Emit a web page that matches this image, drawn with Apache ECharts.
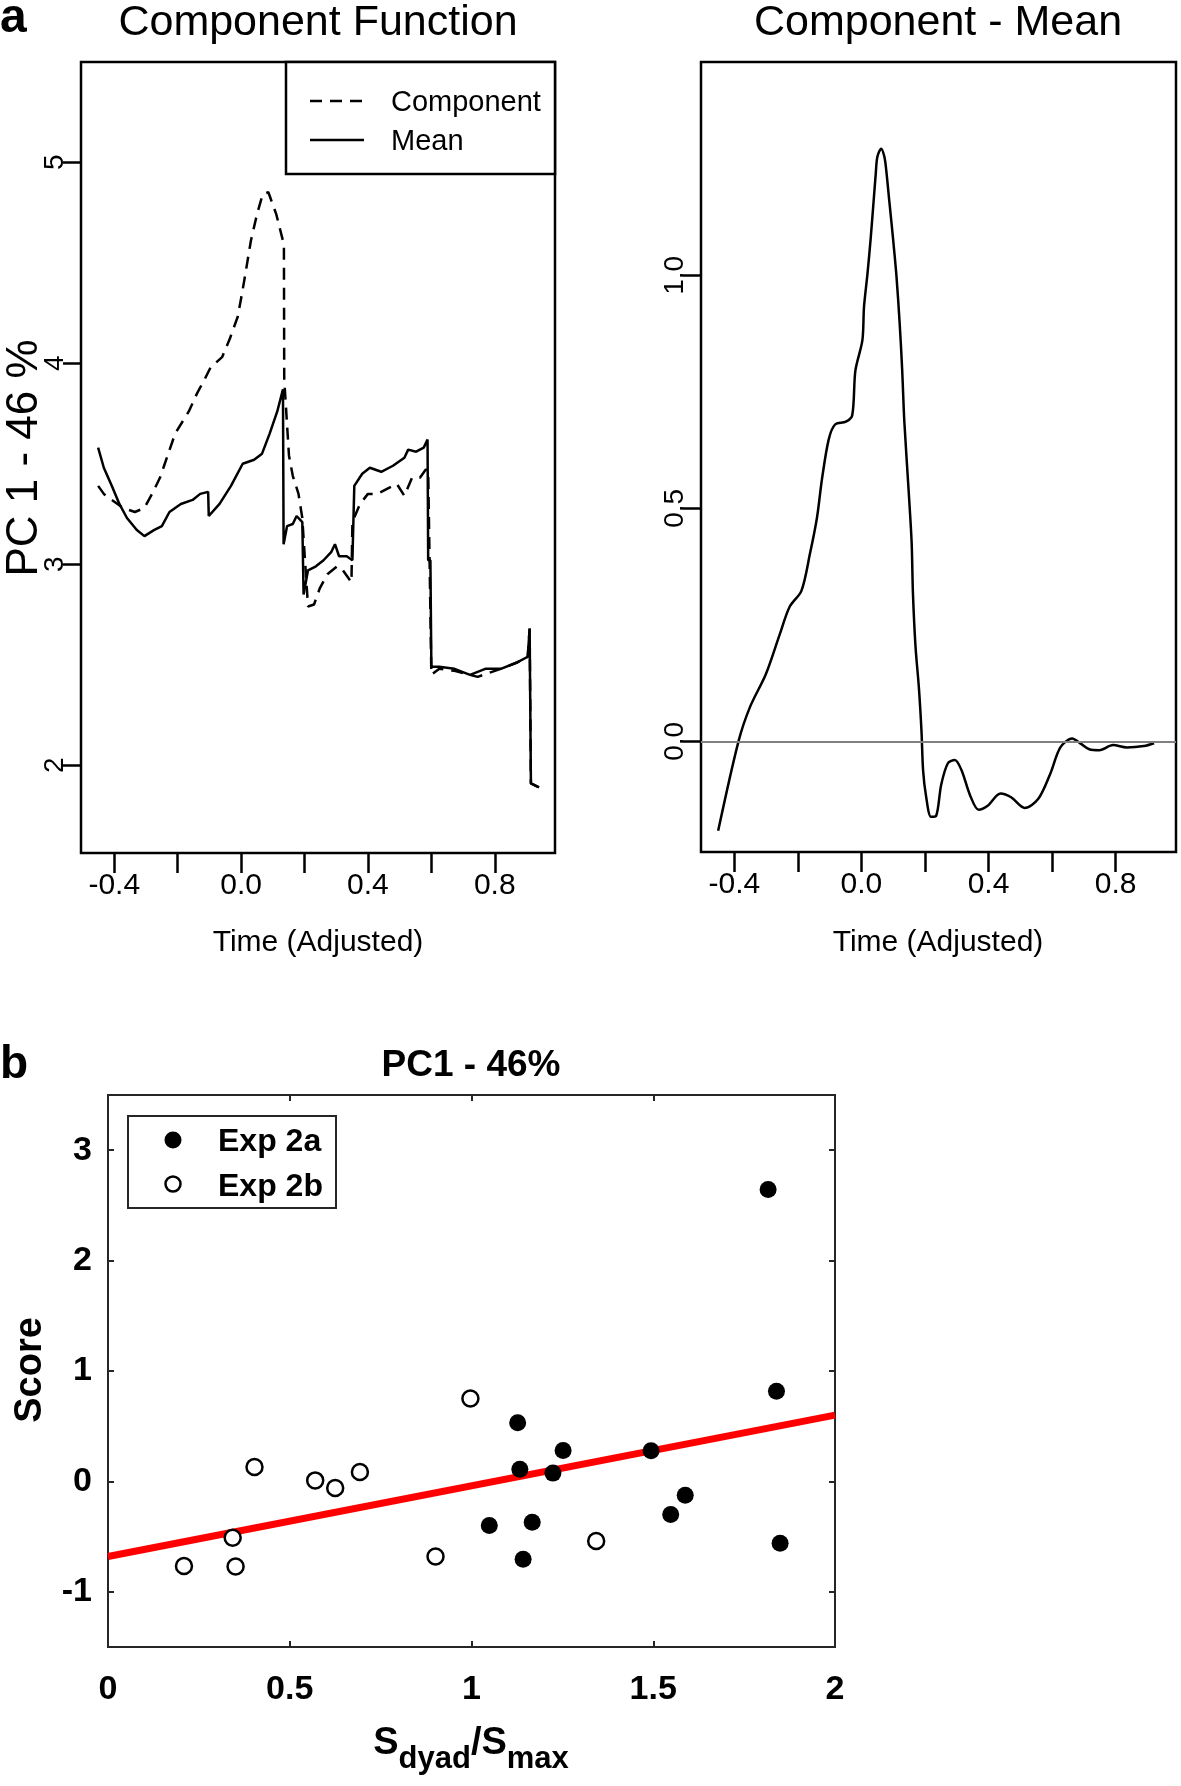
<!DOCTYPE html>
<html>
<head>
<meta charset="utf-8">
<script src="https://cdn.jsdelivr.net/npm/echarts@6/dist/echarts.min.js"></script>
<style>
html,body{margin:0;padding:0;background:#fff;}
#chart{width:1181px;height:1786px;}
</style>
</head>
<body>
<div id="chart"></div>
<script>
// ---------- Panel a (left): Component Function ----------
const compTime = [-0.451,-0.433,-0.408,-0.372,-0.335,-0.305,-0.281,-0.256,-0.232,-0.208,-0.165,-0.139,-0.115,-0.096,-0.060,-0.036,-0.011,0.001,0.013,0.031,0.050,0.068,0.086,0.111,0.135,0.136,0.151,0.163,0.181,0.193,0.199,0.211,0.230,0.248,0.272,0.303,0.321,0.348,0.351,0.375,0.400,0.430,0.454,0.491,0.515,0.539,0.564,0.582,0.590,0.600,0.625,0.673,0.746,0.819,0.868,0.904,0.910,0.914,0.940];
const compVals = [3.39,3.35,3.32,3.28,3.26,3.28,3.35,3.43,3.54,3.65,3.76,3.85,3.92,3.98,4.03,4.12,4.23,4.33,4.44,4.61,4.74,4.84,4.85,4.74,4.59,3.92,3.54,3.44,3.35,3.23,3.08,2.79,2.80,2.88,2.95,2.99,2.97,2.91,3.21,3.30,3.35,3.35,3.37,3.40,3.34,3.43,3.43,3.47,3.47,2.45,2.48,2.47,2.44,2.48,2.51,2.54,2.68,1.91,1.89];
const meanTime = [-0.451,-0.433,-0.408,-0.384,-0.360,-0.329,-0.305,-0.275,-0.250,-0.226,-0.190,-0.153,-0.129,-0.104,-0.102,-0.068,-0.032,0.005,0.041,0.066,0.090,0.114,0.132,0.134,0.145,0.163,0.175,0.193,0.197,0.211,0.236,0.260,0.284,0.296,0.309,0.333,0.351,0.357,0.382,0.406,0.442,0.479,0.515,0.527,0.552,0.576,0.588,0.590,0.597,0.600,0.625,0.673,0.722,0.770,0.819,0.868,0.904,0.910,0.914,0.940];
const meanVals = [3.58,3.48,3.39,3.30,3.23,3.17,3.14,3.17,3.19,3.26,3.30,3.32,3.35,3.36,3.24,3.30,3.39,3.50,3.52,3.55,3.65,3.76,3.87,3.10,3.19,3.20,3.24,3.21,2.85,2.97,2.99,3.02,3.06,3.10,3.04,3.04,3.02,3.39,3.45,3.48,3.46,3.49,3.53,3.57,3.56,3.58,3.62,3.02,3.02,2.49,2.49,2.48,2.45,2.48,2.48,2.51,2.54,2.68,1.91,1.89];
const leftYTicks = [2,3,4,5];
const timeTicks = [-0.4,-0.2,0,0.2,0.4,0.6,0.8];
const timeLabels = [-0.4,0,0.4,0.8];

// ---------- Panel a (right): Component - Mean ----------
const diffTime = [-0.451,-0.387,-0.350,-0.301,-0.258,-0.226,-0.189,-0.162,-0.140,-0.124,-0.103,-0.083,-0.049,-0.029,-0.019,0.003,0.008,0.019,0.029,0.038,0.045,0.050,0.062,0.072,0.078,0.088,0.099,0.110,0.120,0.128,0.135,0.149,0.158,0.162,0.170,0.181,0.189,0.194,0.203,0.219,0.235,0.251,0.272,0.294,0.315,0.342,0.369,0.396,0.438,0.471,0.514,0.556,0.594,0.626,0.663,0.690,0.717,0.749,0.792,0.835,0.889,0.921];
const diffVals = [-0.192,0.000,0.075,0.144,0.228,0.289,0.323,0.403,0.480,0.564,0.648,0.680,0.686,0.700,0.796,0.861,0.932,1.004,1.079,1.157,1.218,1.254,1.272,1.255,1.226,1.157,1.082,1.000,0.900,0.800,0.686,0.533,0.426,0.319,0.205,0.113,0.021,-0.062,-0.116,-0.162,-0.160,-0.093,-0.047,-0.040,-0.062,-0.116,-0.147,-0.139,-0.112,-0.120,-0.143,-0.124,-0.070,-0.013,0.006,-0.005,-0.017,-0.019,-0.008,-0.013,-0.010,-0.004];
const rightYTicks = [0,0.5,1.0];

// ---------- Panel b: PC1 scores ----------
const exp2aX = [1.816,1.839,1.127,1.133,1.252,1.224,1.049,1.167,1.142,1.494,1.588,1.548,1.849];
const exp2aY = [2.643,0.817,0.532,0.111,0.279,0.075,-0.399,-0.369,-0.705,0.277,-0.126,-0.300,-0.561];
const exp2bX = [0.209,0.343,0.351,0.403,0.570,0.625,0.693,0.901,0.997,1.343];
const exp2bY = [-0.766,-0.510,-0.771,0.130,0.009,-0.060,0.085,-0.681,0.751,-0.540];
const fitX = [0, 2];
const fitY = [-0.68, 0.60];
const bXTicks = [0,0.5,1,1.5,2];
const bYTicks = [-1,0,1,2,3];

const zip = (a, b) => a.map((v, i) => [v, b[i]]);
const FONT = '"Liberation Sans", Arial, sans-serif';
const chart = echarts.init(document.getElementById('chart'), null, {renderer: 'canvas'});

const noLine = {show: false, onZero: false};
function rAxisX(grid) {
  return {
    gridIndex: grid, type: 'value', min: -0.505, max: 0.99,
    axisLine: noLine, splitLine: {show: false},
    axisTick: {show: true, inside: false, length: 20, lineStyle: {color: '#000', width: 2.5}, customValues: timeTicks},
    axisLabel: {customValues: timeLabels, formatter: v => v.toFixed(1), fontSize: 30, color: '#000', margin: 18, fontFamily: FONT}
  };
}
function rAxisY(grid, min, max, ticks, fmt) {
  return {
    gridIndex: grid, type: 'value', min: min, max: max,
    axisLine: noLine, splitLine: {show: false},
    axisTick: {show: true, inside: false, length: 18, lineStyle: {color: '#000', width: 2.5}, customValues: ticks},
    axisLabel: {customValues: ticks, formatter: fmt, fontSize: 28, color: '#000', margin: 12, rotate: 90, fontFamily: FONT}
  };
}
const bTickStyle = {color: '#262626', width: 2};

const option = {
  animation: false,
  backgroundColor: '#fff',
  textStyle: {fontFamily: FONT},
  grid: [
    {left: 81, top: 62, width: 474, height: 791, show: true, borderColor: '#000', borderWidth: 2.5, backgroundColor: 'transparent'},
    {left: 701, top: 62, width: 475, height: 790, show: true, borderColor: '#000', borderWidth: 2.5, backgroundColor: 'transparent'},
    {left: 108, top: 1095, width: 727, height: 552, show: true, borderColor: '#262626', borderWidth: 2, backgroundColor: 'transparent'}
  ],
  xAxis: [
    rAxisX(0),
    rAxisX(1),
    {gridIndex: 2, type: 'value', min: 0, max: 2, position: 'bottom',
     axisLine: noLine, splitLine: {show: false},
     axisTick: {show: true, inside: true, length: 6, lineStyle: bTickStyle, customValues: bXTicks},
     axisLabel: {customValues: bXTicks, formatter: v => String(v), fontSize: 34, fontWeight: 'bold', color: '#000', margin: 26, fontFamily: FONT}},
    {gridIndex: 2, type: 'value', min: 0, max: 2, position: 'top',
     axisLine: noLine, splitLine: {show: false},
     axisTick: {show: true, inside: true, length: 6, lineStyle: bTickStyle, customValues: bXTicks},
     axisLabel: {show: false}}
  ],
  yAxis: [
    rAxisY(0, 1.564, 5.498, leftYTicks, v => String(v)),
    rAxisY(1, -0.2375, 1.458, rightYTicks, v => v.toFixed(1)),
    {gridIndex: 2, type: 'value', min: -1.5, max: 3.5, position: 'left',
     axisLine: noLine, splitLine: {show: false},
     axisTick: {show: true, inside: true, length: 6, lineStyle: bTickStyle, customValues: bYTicks},
     axisLabel: {customValues: bYTicks, formatter: v => String(v), fontSize: 34, fontWeight: 'bold', color: '#000', margin: 16, fontFamily: FONT}},
    {gridIndex: 2, type: 'value', min: -1.5, max: 3.5, position: 'right',
     axisLine: noLine, splitLine: {show: false},
     axisTick: {show: true, inside: true, length: 6, lineStyle: bTickStyle, customValues: bYTicks},
     axisLabel: {show: false}}
  ],
  series: [
    {name: 'Component', type: 'line', xAxisIndex: 0, yAxisIndex: 0, data: zip(compTime, compVals),
     symbol: 'none', lineStyle: {color: '#000', width: 2.5, type: [12, 8]}},
    {name: 'Mean', type: 'line', xAxisIndex: 0, yAxisIndex: 0, data: zip(meanTime, meanVals),
     symbol: 'none', lineStyle: {color: '#000', width: 2.5}},
    {name: 'Component - Mean', type: 'line', xAxisIndex: 1, yAxisIndex: 1, data: zip(diffTime, diffVals),
     symbol: 'none', smooth: 0.3, lineStyle: {color: '#000', width: 2.5},
     markLine: {silent: true, symbol: 'none', label: {show: false},
       lineStyle: {color: '#808080', type: 'solid', width: 2}, data: [{yAxis: 0}]}},
    {name: 'Fit', type: 'line', xAxisIndex: 2, yAxisIndex: 2, data: zip(fitX, fitY),
     symbol: 'none', z: 2, lineStyle: {color: '#ff0000', width: 7}},
    {name: 'Exp 2a', type: 'scatter', xAxisIndex: 2, yAxisIndex: 2, data: zip(exp2aX, exp2aY),
     symbol: 'circle', symbolSize: 17, z: 3, itemStyle: {color: '#000', opacity: 1}},
    {name: 'Exp 2b', type: 'scatter', xAxisIndex: 2, yAxisIndex: 2, data: zip(exp2bX, exp2bY),
     symbol: 'circle', symbolSize: 16, z: 3, itemStyle: {color: '#fff', borderColor: '#000', borderWidth: 2.5, opacity: 1}}
  ],
  graphic: [
    // panel letters
    {type: 'text', x: 0, y: 19, style: {text: 'a', fontSize: 48, fontWeight: 'bold', fill: '#000', fontFamily: FONT, verticalAlign: 'middle'}},
    {type: 'text', x: 0, y: 1065, style: {text: 'b', fontSize: 46, fontWeight: 'bold', fill: '#000', fontFamily: FONT, verticalAlign: 'middle'}},
    // titles panel a
    {type: 'text', x: 318, y: 23, style: {text: 'Component Function', fontSize: 43, fill: '#000', fontFamily: FONT, align: 'center', verticalAlign: 'middle'}},
    {type: 'text', x: 938, y: 23, style: {text: 'Component - Mean', fontSize: 43, fill: '#000', fontFamily: FONT, align: 'center', verticalAlign: 'middle'}},
    // axis names panel a
    {type: 'text', x: 25, y: 458, rotation: Math.PI / 2, style: {text: 'PC 1 - 46 %', fontSize: 44, fill: '#000', fontFamily: FONT, align: 'center', verticalAlign: 'middle'}},
    {type: 'text', x: 318, y: 943, style: {text: 'Time (Adjusted)', fontSize: 30, fill: '#000', fontFamily: FONT, align: 'center', verticalAlign: 'middle'}},
    {type: 'text', x: 938, y: 943, style: {text: 'Time (Adjusted)', fontSize: 30, fill: '#000', fontFamily: FONT, align: 'center', verticalAlign: 'middle'}},
    // legend panel a
    {type: 'rect', shape: {x: 286, y: 62, width: 269, height: 112}, style: {fill: '#fff', stroke: '#000', lineWidth: 2.5}, z: 10},
    {type: 'line', shape: {x1: 310, y1: 101, x2: 364, y2: 101}, style: {stroke: '#000', lineWidth: 2.5, lineDash: [12, 8]}, z: 11},
    {type: 'line', shape: {x1: 310, y1: 140, x2: 364, y2: 140}, style: {stroke: '#000', lineWidth: 2.5}, z: 11},
    {type: 'text', x: 391, y: 103, z: 11, style: {text: 'Component', fontSize: 29, fill: '#000', fontFamily: FONT, verticalAlign: 'middle'}},
    {type: 'text', x: 391, y: 142, z: 11, style: {text: 'Mean', fontSize: 29, fill: '#000', fontFamily: FONT, verticalAlign: 'middle'}},
    // panel b title and axis names
    {type: 'text', x: 471, y: 1066, style: {text: 'PC1 - 46%', fontSize: 37, fontWeight: 'bold', fill: '#000', fontFamily: FONT, align: 'center', verticalAlign: 'middle'}},
    {type: 'text', x: 31, y: 1370, rotation: Math.PI / 2, style: {text: 'Score', fontSize: 38, fontWeight: 'bold', fill: '#000', fontFamily: FONT, align: 'center', verticalAlign: 'middle'}},
    {type: 'text', x: 471, y: 1750, style: {
      text: '{a|S}{b|dyad}{a|/S}{b|max}', align: 'center', verticalAlign: 'middle', fill: '#000', fontFamily: FONT,
      rich: {
        a: {fontSize: 38, fontWeight: 'bold', fontFamily: FONT, verticalAlign: 'top', lineHeight: 50},
        b: {fontSize: 31, fontWeight: 'bold', fontFamily: FONT, verticalAlign: 'bottom', lineHeight: 50}
      }}},
    // legend panel b
    {type: 'rect', shape: {x: 128, y: 1116, width: 208, height: 92}, style: {fill: '#fff', stroke: '#262626', lineWidth: 2}, z: 10},
    {type: 'circle', shape: {cx: 173, cy: 1140, r: 8.5}, style: {fill: '#000'}, z: 11},
    {type: 'circle', shape: {cx: 173, cy: 1184, r: 7.5}, style: {fill: '#fff', stroke: '#000', lineWidth: 2.5}, z: 11},
    {type: 'text', x: 218, y: 1142, z: 11, style: {text: 'Exp 2a', fontSize: 32, fontWeight: 'bold', fill: '#000', fontFamily: FONT, verticalAlign: 'middle'}},
    {type: 'text', x: 218, y: 1187, z: 11, style: {text: 'Exp 2b', fontSize: 32, fontWeight: 'bold', fill: '#000', fontFamily: FONT, verticalAlign: 'middle'}}
  ]
};
chart.setOption(option);
</script>
</body>
</html>
